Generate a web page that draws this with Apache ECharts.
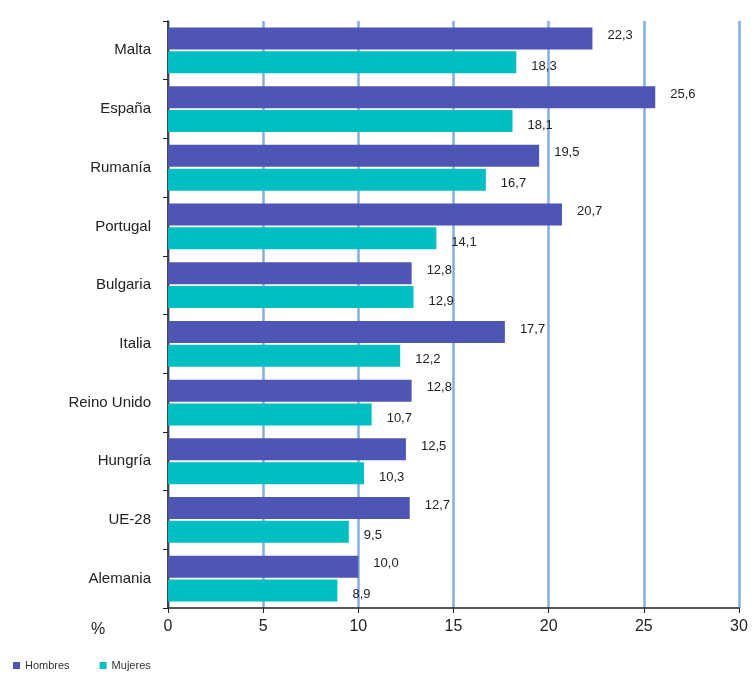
<!DOCTYPE html>
<html><head><meta charset="utf-8">
<script src="https://cdn.jsdelivr.net/npm/echarts@6/dist/echarts.min.js"></script>
<style>html,body{margin:0;padding:0;background:#fff}#c{width:753px;height:678px}</style>
</head><body><div id="c"></div>
<script>
const categories = ["Malta","España","Rumanía","Portugal","Bulgaria","Italia","Reino Unido","Hungría","UE-28","Alemania"];
const hombres = [22.3,25.6,19.5,20.7,12.8,17.7,12.8,12.5,12.7,10.0];
const mujeres = [18.3,18.1,16.7,14.1,12.9,12.2,10.7,10.3,9.5,8.9];
const xTicks = [0,5,10,15,20,25,30];
const fmt = v => v.toFixed(1).replace('.', ',');
const chart = echarts.init(document.getElementById('c'));
const font = 'Liberation Sans, Arial, sans-serif';
chart.setOption({
  animation:false,
  grid:{left:168,right:14,top:21,bottom:70,containLabel:false},
  legend:{left:8,bottom:2,itemWidth:7,itemHeight:7,itemGap:30,icon:'rect',
    textStyle:{fontFamily:font,fontSize:11,color:'#333'},data:['Hombres','Mujeres']},
  graphic:[{type:'text',left:91,top:622,style:{text:'%',fontFamily:font,fontSize:16,fill:'#222'}}],
  xAxis:{type:'value',min:0,max:30,interval:5,
    axisLine:{show:true,lineStyle:{color:'#222',width:1.5}},
    axisTick:{show:true,length:5,lineStyle:{color:'#222'}},
    axisLabel:{fontFamily:font,fontSize:16,color:'#222',margin:11,formatter:v=>xTicks.includes(v)?String(v):''},
    splitLine:{show:true,lineStyle:{color:'#85aee0',width:2.5}}},
  yAxis:{type:'category',data:categories,inverse:true,
    axisLine:{show:true,lineStyle:{color:'#222',width:1.5}},
    axisTick:{show:true,length:5,lineStyle:{color:'#222'}},
    axisLabel:{fontFamily:font,fontSize:15,color:'#222',margin:17}},
  series:[
    {name:'Hombres',type:'bar',data:hombres,barWidth:22,barGap:'8%',
      itemStyle:{color:'#4f55b5'},
      label:{show:true,position:'right',distance:15,offset:[0,-3],fontFamily:font,fontSize:13,color:'#222',formatter:p=>fmt(p.value)}},
    {name:'Mujeres',type:'bar',data:mujeres,barWidth:22,barGap:'8%',
      itemStyle:{color:'#00bfc2'},
      label:{show:true,position:'right',distance:15,offset:[0,4],fontFamily:font,fontSize:13,color:'#222',formatter:p=>fmt(p.value)}}
  ]
});
</script></body></html>
